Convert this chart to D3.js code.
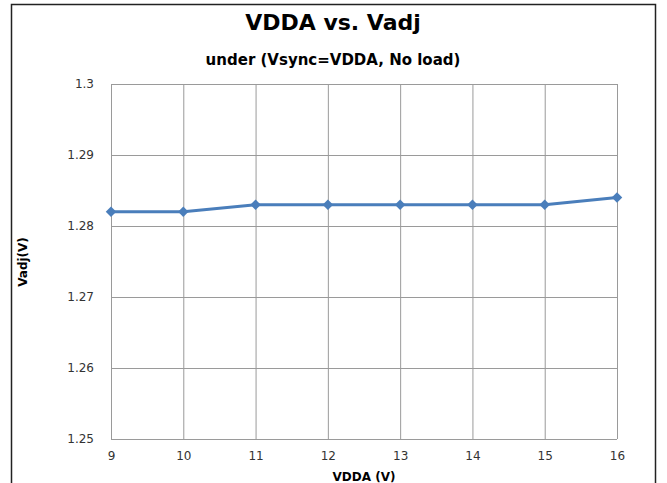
<!doctype html>
<html>
  <head>
    <script src="https://cdnjs.cloudflare.com/ajax/libs/d3/7.8.5/d3.min.js"></script>
    <style>
      body { margin: 0; background: #fff; }
      text { font-family: "DejaVu Sans", Verdana, sans-serif; }
    </style>
  </head>
  <body>
    <svg></svg>
    <script>
      var width = 667,
          height = 483;

      var vdda = [9, 10, 11, 12, 13, 14, 15, 16];
      var vadj = [1.282, 1.282, 1.283, 1.283, 1.283, 1.283, 1.283, 1.284];
      var yTicks = [1.25, 1.26, 1.27, 1.28, 1.29, 1.3];

      var svg = d3.select("svg").attr("width", width).attr("height", height);

      // outer frame
      svg.append("rect")
          .attr("x", 11.5).attr("y", 4.5)
          .attr("width", 644).attr("height", 500)
          .style("fill", "none").style("stroke", "#222").style("stroke-width", 1.5);

      var x = d3.scaleLinear().domain([9, 16]).range([111, 617]);
      var y = d3.scaleLinear().domain([1.25, 1.3]).range([439, 84]);

      // grid
      svg.append("g").selectAll("line").data(vdda)
        .enter().append("line")
          .attr("x1", d => x(d) + 0.5).attr("x2", d => x(d) + 0.5)
          .attr("y1", y(1.3)).attr("y2", y(1.25))
          .style("stroke", "#9a9a9a").style("stroke-width", 1);
      svg.append("g").selectAll("line").data(yTicks)
        .enter().append("line")
          .attr("x1", x(9)).attr("x2", x(16))
          .attr("y1", d => y(d) + 0.5).attr("y2", d => y(d) + 0.5)
          .style("stroke", "#9a9a9a").style("stroke-width", 1);

      // axes
      var xAxis = svg.append("g")
          .attr("transform", "translate(0," + (y(1.25) + 9) + ")")
          .call(d3.axisBottom(x).tickValues(vdda).tickFormat(d3.format("d")).tickSize(0));
      var yAxis = svg.append("g")
          .attr("transform", "translate(" + (x(9) - 14) + ",0)")
          .call(d3.axisLeft(y).tickValues(yTicks).tickFormat(d => d3.format("")(+d.toFixed(2))).tickSize(0));
      [xAxis, yAxis].forEach(function(a) {
        a.select(".domain").remove();
        a.selectAll("text").style("font-size", "12px").style("fill", "#333");
      });

      // line + markers
      var pts = vdda.map((d, i) => [d, vadj[i]]);
      svg.append("path").datum(pts)
          .attr("d", d3.line().x(d => x(d[0])).y(d => y(d[1])))
          .style("fill", "none").style("stroke", "#4a7ebb").style("stroke-width", 3);
      svg.append("g").selectAll("path").data(pts)
        .enter().append("path")
          .attr("d", d3.symbol().type(d3.symbolDiamond2).size(70))
          .attr("transform", d => "translate(" + x(d[0]) + "," + y(d[1]) + ")")
          .style("fill", "#4a7ebb");

      // titles
      svg.append("text").text("VDDA vs. Vadj")
          .attr("x", 333).attr("y", 30).attr("text-anchor", "middle")
          .style("font-size", "22px").style("font-weight", "bold");
      svg.append("text").text("under (Vsync=VDDA, No load)")
          .attr("x", 333).attr("y", 65).attr("text-anchor", "middle")
          .style("font-size", "15px").style("font-weight", "bold");
      svg.append("text").text("VDDA (V)")
          .attr("x", 364).attr("y", 481).attr("text-anchor", "middle")
          .style("font-size", "12px").style("font-weight", "bold");
      svg.append("text").text("Vadj(V)")
          .attr("transform", "translate(27,262) rotate(-90)").attr("text-anchor", "middle")
          .style("font-size", "12px").style("font-weight", "bold");
    </script>
  </body>
</html>
